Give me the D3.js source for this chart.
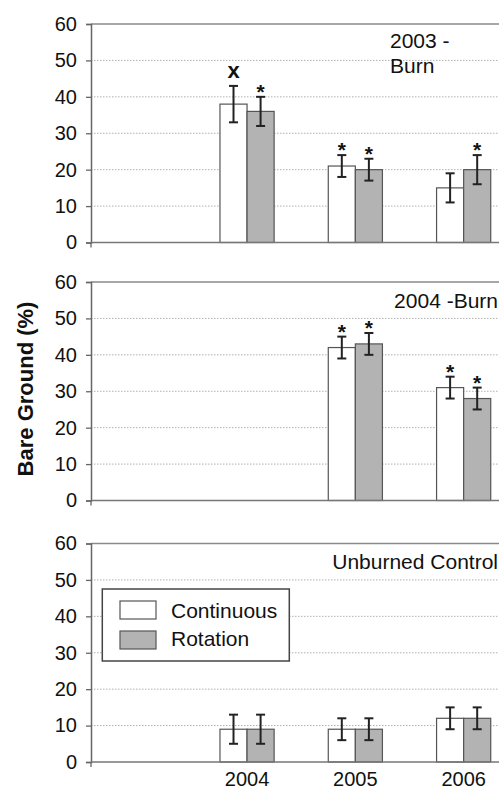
<!DOCTYPE html>
<html>
<head>
<meta charset="utf-8">
<script src="https://cdn.jsdelivr.net/npm/d3@7"></script>
<style>
  body { margin: 0; background: #fff; }
  text { font-family: "Liberation Sans", Arial, sans-serif; fill: #111; }
</style>
</head>
<body>
<div id="chart"></div>
<script>
// categories and tick labels
const years = ["2003", "2004", "2005", "2006"];
const xTickLabels = ["", "2004", "2005", "2006"];
const yTicks = [0, 10, 20, 30, 40, 50, 60];
const seriesNames = ["Continuous", "Rotation"];
const panelTitles = [["2003 -", "Burn"], ["2004 -Burn"], ["Unburned Control"]];

// per panel: 2003 Burn, 2004 Burn, Unburned Control
const continuousMean = [[null, 38, 21, 15], [null, null, 42, 31], [null, 9, 9, 12]];
const continuousErr  = [[null, 5, 3, 4],    [null, null, 3, 3],   [null, 4, 3, 3]];
const rotationMean   = [[null, 36, 20, 20], [null, null, 43, 28], [null, 9, 9, 12]];
const rotationErr    = [[null, 4, 3, 4],    [null, null, 3, 3],   [null, 4, 3, 3]];
const continuousMark = [["", "x", "*", ""], ["", "", "*", "*"], ["", "", "", ""]];
const rotationMark   = [["", "*", "*", "*"], ["", "", "*", "*"], ["", "", "", ""]];

const W = 499, H = 790;
const axisX = 91, plotRight = 499;
const panelTops = [24, 282, 543.5];
const panelH = 218.5;
const fills = ["#ffffff", "#b3b3b3"];

const svg = d3.select("#chart").append("svg")
    .attr("width", W).attr("height", H);

const x = d3.scaleBand().domain(years).range([84.6, 517.8])
    .paddingInner(0.5).paddingOuter(0.25);
const xs = d3.scaleBand().domain(seriesNames).range([0, x.bandwidth()]);

panelTops.forEach((top, p) => {
    const y = d3.scaleLinear().domain([0, 60]).range([top + panelH, top]);
    const g = svg.append("g");

    // gridlines
    g.selectAll(".grid").data(yTicks.filter(t => t > 0 && t < 60)).enter()
        .append("line")
        .attr("x1", axisX).attr("x2", plotRight)
        .attr("y1", d => y(d)).attr("y2", d => y(d))
        .attr("stroke", "#b0b0b0").attr("stroke-width", 1)
        .attr("stroke-dasharray", "1.5,1.5");
    g.append("line")
        .attr("x1", axisX).attr("x2", plotRight)
        .attr("y1", y(60)).attr("y2", y(60))
        .attr("stroke", "#8a8a8a").attr("stroke-width", 1.6);

    // y axis
    const ya = g.append("g")
        .attr("transform", `translate(${axisX},0)`)
        .call(d3.axisLeft(y).tickValues(yTicks).tickSize(5).tickPadding(9));
    ya.select(".domain").attr("stroke", "#666").attr("stroke-width", 1.5);
    ya.selectAll(".tick line").attr("stroke", "#666").attr("stroke-width", 1.3);
    ya.selectAll(".tick text")
        .style("font-family", '"Liberation Sans", Arial, sans-serif')
        .style("font-size", "20px").attr("fill", "#111");

    // bars
    const rows = years.map((yr, i) => [
        { yr, s: seriesNames[0], v: continuousMean[p][i], e: continuousErr[p][i], m: continuousMark[p][i], c: fills[0] },
        { yr, s: seriesNames[1], v: rotationMean[p][i], e: rotationErr[p][i], m: rotationMark[p][i], c: fills[1] }
    ]).flat().filter(d => d.v != null);

    g.selectAll(".bar").data(rows).enter().append("rect")
        .attr("x", d => x(d.yr) + xs(d.s))
        .attr("y", d => y(d.v))
        .attr("width", xs.bandwidth())
        .attr("height", d => y(0) - y(d.v))
        .attr("fill", d => d.c)
        .attr("stroke", "#555").attr("stroke-width", 1.2);

    // error bars
    const cx = d => x(d.yr) + xs(d.s) + xs.bandwidth() / 2;
    const eb = g.selectAll(".err").data(rows).enter().append("g")
        .attr("stroke", "#222").attr("stroke-width", 2);
    eb.append("line").attr("x1", cx).attr("x2", cx)
        .attr("y1", d => y(d.v + d.e)).attr("y2", d => y(d.v - d.e));
    eb.append("line").attr("x1", d => cx(d) - 4.5).attr("x2", d => cx(d) + 4.5)
        .attr("y1", d => y(d.v + d.e)).attr("y2", d => y(d.v + d.e));
    eb.append("line").attr("x1", d => cx(d) - 4.5).attr("x2", d => cx(d) + 4.5)
        .attr("y1", d => y(d.v - d.e)).attr("y2", d => y(d.v - d.e));

    // significance marks
    g.selectAll(".mark").data(rows.filter(d => d.m)).enter().append("text")
        .attr("x", cx)
        .attr("y", d => y(d.v + d.e) + (d.m === "x" ? -8 : 2))
        .attr("text-anchor", "middle")
        .style("font-size", d => d.m === "x" ? "22px" : "21px").style("font-weight", "bold")
        .text(d => d.m);

    // x axis line
    g.append("line")
        .attr("x1", axisX).attr("x2", plotRight)
        .attr("y1", y(0)).attr("y2", y(0))
        .attr("stroke", "#777").attr("stroke-width", 1.5);
    g.append("line")
        .attr("x1", axisX).attr("x2", axisX)
        .attr("y1", y(0)).attr("y2", y(0) + 5)
        .attr("stroke", "#666").attr("stroke-width", 1.3);

    // panel title
    const t = panelTitles[p];
    if (t.length === 2) {
        g.selectAll(".ttl").data(t).enter().append("text")
            .attr("x", 390).attr("y", (d, i) => top + 24 + i * 25)
            .style("font-size", "21px").text(d => d);
    } else {
        g.append("text").attr("x", 498).attr("y", top + 25.5)
            .attr("text-anchor", "end")
            .style("font-size", "21px").text(t[0]);
    }
});

// x tick labels under the bottom panel
const xa = svg.append("g")
    .attr("transform", `translate(0,${panelTops[2] + panelH})`)
    .call(d3.axisBottom(x).tickSize(0).tickPadding(10).tickFormat((d, i) => xTickLabels[i]));
xa.select(".domain").remove();
xa.selectAll(".tick text")
    .style("font-family", '"Liberation Sans", Arial, sans-serif')
    .style("font-size", "20px").attr("fill", "#111");

// legend
const lg = svg.append("g");
lg.append("rect").attr("x", 102.3).attr("y", 589).attr("width", 187).attr("height", 72)
    .attr("fill", "#fff").attr("stroke", "#444").attr("stroke-width", 1.5);
seriesNames.forEach((s, i) => {
    lg.append("rect").attr("x", 120).attr("y", 601 + i * 30).attr("width", 36).attr("height", 18)
        .attr("fill", fills[i]).attr("stroke", "#555").attr("stroke-width", 1.2);
    lg.append("text").attr("x", 171).attr("y", 618 + i * 28)
        .style("font-size", "21px").text(s);
});

// y axis title
svg.append("text")
    .attr("transform", "translate(33,389) rotate(-90)")
    .attr("text-anchor", "middle")
    .style("font-size", "22px").style("font-weight", "bold")
    .text("Bare Ground (%)");
</script>
</body>
</html>
